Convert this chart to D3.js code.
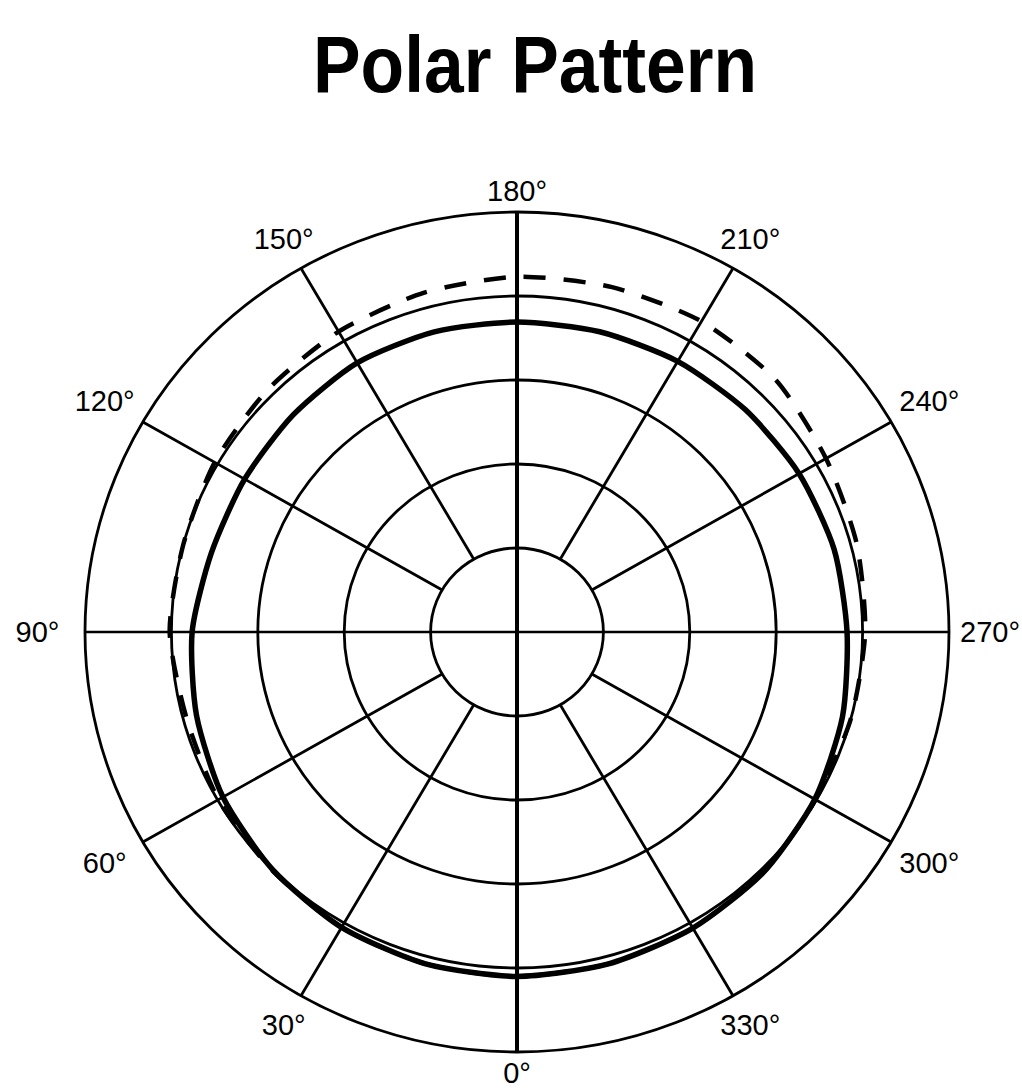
<!DOCTYPE html>
<html>
 <head>
    <script type="text/javascript" src="https://d3js.org/d3.v7.min.js"></script>
    <style>
      body { margin: 0; background: #fff; }
    </style>
 </head>
 <body>
    <div id="my_dataviz"></div>
<script>

  // angles in degrees, 0 at bottom, going clockwise (90 at left)
  var angles = [0, 15, 30, 45, 60, 75, 90, 105, 120, 135, 150, 165,
                180, 195, 210, 225, 240, 255, 270, 285, 300, 315, 330, 345];

  // main response, thick solid line (in ring units, outer ring = 5)
  var solidValues = [4.10, 4.09, 4.06, 4.00, 3.93, 3.84, 3.76, 3.66, 3.64, 3.66, 3.70, 3.70,
                     3.69, 3.70, 3.72, 3.74, 3.77, 3.80, 3.82, 3.90, 3.98, 4.04, 4.07, 4.09];

  // second response, dashed line
  var dashedValues = [4.10, 4.09, 4.06, 4.01, 3.99, 3.96, 4.02, 4.00, 4.04, 4.08, 4.13, 4.18,
                      4.23, 4.25, 4.27, 4.24, 4.13, 4.07, 4.03, 4.00, 3.99, 4.04, 4.07, 4.09];

  var rings = [1, 2, 3, 4, 5];
  var spokeAngles = [30, 60, 120, 150, 210, 240, 300, 330];
  var axisAngles = [0, 90];
  var labelAngles = [0, 30, 60, 90, 120, 150, 180, 210, 240, 270, 300, 330];

  var width = 1022, height = 1090;
  var cx = 517, cy = 632;

  var svg = d3.select("#my_dataviz")
              .append("svg")
              .attr("width", width)
              .attr("height", height);

  // slightly squashed vertically, like the scanned original
  var rX = d3.scaleLinear().domain([0, 5]).range([0, 432]);
  var rY = d3.scaleLinear().domain([0, 5]).range([0, 420]);

  function px(a, r) { return cx - rX(r) * Math.sin(a * Math.PI / 180); }
  function py(a, r) { return cy + rY(r) * Math.cos(a * Math.PI / 180); }

  // title
  svg.append("text")
     .attr("x", 535)
     .attr("y", 92)
     .attr("text-anchor", "middle")
     .attr("textLength", 444)
     .attr("lengthAdjust", "spacingAndGlyphs")
     .style("font-family", "'Liberation Sans', Arial, sans-serif")
     .style("font-weight", "bold")
     .style("font-size", "80px")
     .text("Polar Pattern");

  var grid = svg.append("g").attr("class", "grid");

  grid.selectAll("ellipse")
      .data(rings)
      .enter().append("ellipse")
      .attr("cx", cx)
      .attr("cy", cy)
      .attr("rx", function(d) { return rX(d); })
      .attr("ry", function(d) { return rY(d); })
      .attr("fill", "none")
      .attr("stroke", "#000")
      .attr("stroke-width", 2.8);

  grid.selectAll("line.spoke")
      .data(spokeAngles)
      .enter().append("line")
      .attr("class", "spoke")
      .attr("x1", function(d) { return px(d, 1); })
      .attr("y1", function(d) { return py(d, 1); })
      .attr("x2", function(d) { return px(d, 5); })
      .attr("y2", function(d) { return py(d, 5); })
      .attr("stroke", "#000")
      .attr("stroke-width", 2.8);

  // full diameters for 0-180 and 90-270
  grid.selectAll("line.axis")
      .data(axisAngles)
      .enter().append("line")
      .attr("class", "axis")
      .attr("x1", function(d) { return px(d, 5); })
      .attr("y1", function(d) { return py(d, 5); })
      .attr("x2", function(d) { return px(d + 180, 5); })
      .attr("y2", function(d) { return py(d + 180, 5); })
      .attr("stroke", "#000")
      .attr("stroke-width", function(d) { return d == 0 ? 4 : 2.5; });

  // curves
  var lineFunc = d3.line()
      .x(function(d) { return px(d[0], d[1]); })
      .y(function(d) { return py(d[0], d[1]); })
      .curve(d3.curveCardinalClosed.tension(0.3));

  svg.append("path")
     .attr("d", lineFunc(angles.map(function(a, i) { return [a, dashedValues[i]]; })))
     .attr("fill", "none")
     .attr("stroke", "#000")
     .attr("stroke-width", 4.5)
     .attr("stroke-dasharray", "22,18");

  svg.append("path")
     .attr("d", lineFunc(angles.map(function(a, i) { return [a, solidValues[i]]; })))
     .attr("fill", "none")
     .attr("stroke", "#000")
     .attr("stroke-width", 5.5);

  // angle labels
  svg.selectAll("text.lbl")
     .data(labelAngles)
     .enter().append("text")
     .attr("class", "lbl")
     .attr("x", function(d) {
        var x = px(d, 5.25 + 0.3 * Math.abs(Math.sin(d * Math.PI / 180)));
        return Math.min(x, width - 32);   // keep 270 inside the page
     })
     .attr("y", function(d) { return py(d, 5.25 + 0.3 * Math.abs(Math.sin(d * Math.PI / 180))); })
     .attr("text-anchor", "middle")
     .attr("dominant-baseline", "central")
     .style("font-family", "'Liberation Sans', Arial, sans-serif")
     .style("font-size", "29px")
     .text(function(d) { return d + "°"; });

</script>
 </body>
</html>
